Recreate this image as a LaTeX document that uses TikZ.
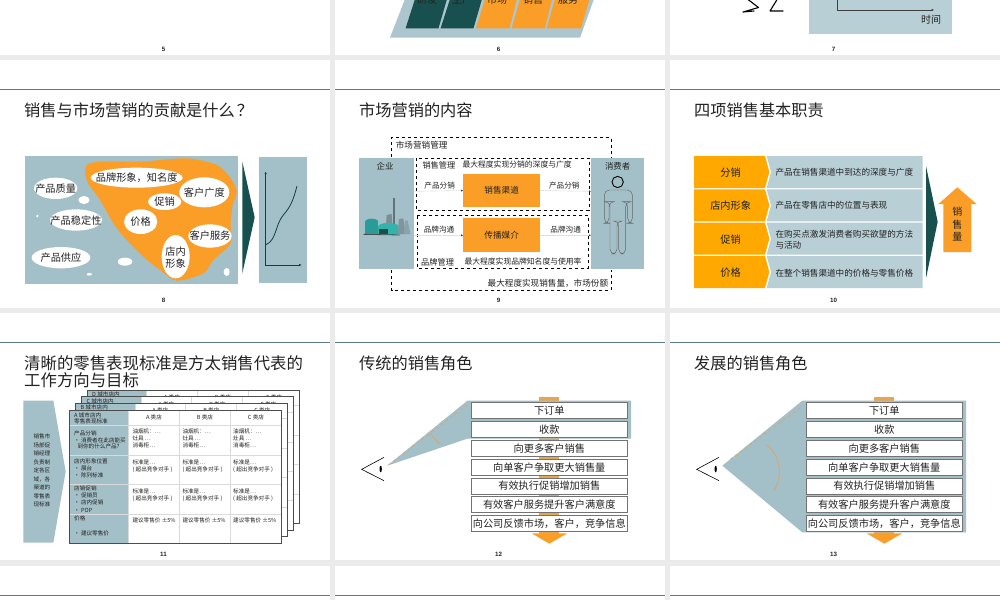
\documentclass[tikz,border=0pt]{standalone}
\usepackage{fontspec}
\setmainfont{Noto Sans CJK SC}
\newfontfamily\latinnum{Liberation Sans}
\usetikzlibrary{arrows.meta}
\definecolor{bandgray}{HTML}{EBEBEB}
\definecolor{rulec}{HTML}{5F7C80}
\definecolor{steel}{HTML}{A3BFC8}
\definecolor{pale}{HTML}{B8CFD6}
\definecolor{deep}{HTML}{17504F}
\definecolor{amber}{HTML}{FB9E28}
\definecolor{barc}{HTML}{E9A54E}
\definecolor{gold}{HTML}{FFA800}
\definecolor{ink}{HTML}{222222}
\definecolor{gridc}{HTML}{DADADA}
\definecolor{tan}{HTML}{D9A566}
\definecolor{teala}{HTML}{2A9C98}
\definecolor{tealb}{HTML}{33B3AC}
\tikzset{
  fs/.style={font=\fontsize{#1pt}{#1pt}\selectfont},
  every node/.style={inner sep=0pt,text=ink},
  titletext/.style={anchor=west,fs=16.2},
  pagenum/.style={font=\latinnum\bfseries\fontsize{6.2pt}{6.2pt}\selectfont},
  zoomed/.style={x=0.33333pt,y=-0.33333pt},
  rolebox/.style={draw=black!55,line width=.7pt,fill=white,minimum width=156pt,minimum height=16pt,fs=10.2},
  cell/.style={anchor=west,fs=5.6,align=left},
  thin conn/.style={draw=black!12,line width=.6pt,-{Latex[length=2pt,width=2pt,black!80]}},
}
\newcommand{\zell}[4]{\fill[white] (#1,#2) ellipse [x radius=#3,y radius=#4];}
% name, dx, dy, letter
\newcommand{\sheet}[4]{%
\begin{scope}[shift={(#2,#3)}]
  \fill[white] (0,0) rectangle (635,400);
  \fill[steel] (0,0) rectangle (178,400);
  \draw[gridc,line width=.4pt] (0,46)--(635,46) (0,136)--(635,136) (0,223)--(635,223) (0,312)--(635,312)
     (178,0)--(178,400) (330,0)--(330,400) (483,0)--(483,400);
  \draw[black!70,line width=.8pt] (0,0) rectangle (635,400);
  \node[cell] (#1h) at (14,13) {#4 城市店内};
  \node[fs=5.6] (#1a) at (254,22) {A 类店};
  \node[fs=5.6] (#1b) at (407,22) {B 类店};
  \node[fs=5.6] (#1c) at (560,22) {C 类店};
\end{scope}}
\begin{document}
\begin{tikzpicture}[x=1pt,y=-1pt]
\path[use as bounding box,clip] (0,0) rectangle (1000,600);
\fill[bandgray] (0,0) rectangle (1000,600);
% panels
\foreach \px in {0,335,670}{
  \fill[white] (\px,0) rectangle +(330,55);
  \fill[white] (\px,59.5) rectangle +(330,248);
  \fill[white] (\px,313) rectangle +(330,247);
  \fill[white] (\px,566) rectangle +(330,34);
  \draw[rulec,line width=.8pt] (\px,89.5) -- +(330,0);
  \draw[rulec,line width=.8pt] (\px,342.5) -- +(330,0);
  \draw[rulec,line width=.8pt] (\px,595.5) -- +(330,0);
}
% page numbers
\node[pagenum] (p5) at (163.5,49) {5};
\node[pagenum] (p6) at (498.5,49) {6};
\node[pagenum] (p7) at (833.5,49) {7};
\node[pagenum] (p8) at (163.5,300.8) {8};
\node[pagenum] (p9) at (498.5,300.8) {9};
\node[pagenum] (p10) at (833.5,300.8) {10};
\node[pagenum] (p11) at (163.5,554) {11};
\node[pagenum] (p12) at (498.5,554) {12};
\node[pagenum] (p13) at (833.5,554) {13};
% slide 6 remainder
\fill[steel!90!white] (405,-1) -- (594,-1) -- (580,37.7) -- (390,37.7) -- cycle;
\fill[deep] (415,-1)--(447,-1)--(438.5,28.3)--(405.6,28.3)--cycle;
\fill[deep] (450,-1)--(482,-1)--(473.5,28.3)--(440.6,28.3)--cycle;
\fill[amber] (485,-1)--(517,-1)--(509.5,28.3)--(476,28.3)--cycle;
\fill[amber] (520,-1)--(552,-1)--(545,28.3)--(511.7,28.3)--cycle;
\fill[amber] (555,-1)--(589.5,-1)--(581,28.3)--(546.7,28.3)--cycle;
\node[fs=10] (r1) at (427,0) {研发};
\node[fs=10] (r2) at (462,0) {生产};
\node[fs=10] (r3) at (497,0) {市场};
\node[fs=10] (r4) at (533,0) {销售};
\node[fs=10] (r5) at (568,0) {服务};
% slide 7 remainder
\draw[black,line width=1.1pt,line cap=round,line join=round] (746,-2)--(758.5,7.5)--(743,12)--(754,11);
\draw[black,line width=1.1pt,line cap=round,line join=round] (778,-2)--(770,11)--(783,11);
\fill[pale] (809,-1) rectangle (952,33.7);
\draw[black!75,line width=.8pt,-{Latex[length=2.5pt,width=2.5pt]}] (837,-1)--(837,10)--(934,10);
\node[fs=10] (s7t) at (931,20) {时间};

% ---------- slide 8
\node[titletext] (t8) at (24,110.7) {销售与市场营销的贡献是什么\hspace{2pt}？};
\begin{scope}[shift={(0,90)},zoomed]
\fill[steel] (75,198) rectangle (713,581);
\fill[amber] plot[smooth cycle,tension=.5] coordinates {(258,228) (300,215) (420,215) (560,205) (650,225) (690,262) (710,305) (698,345) (692,400) (692,460) (640,510) (610,550) (530,572) (480,540) (430,500) (380,450) (340,400) (300,330) (262,275)};
\zell{410}{263}{138}{30}\zell{167}{295}{65}{32}\zell{252}{330}{17}{12}\zell{112}{378}{4}{4}
\zell{228}{390}{78}{32}\zell{183}{503}{88}{32}\zell{375}{515}{22}{12}\zell{268}{553}{8}{4}
\zell{613}{307}{75}{45}\zell{494}{335}{50}{25}\zell{422}{395}{50}{37}\zell{630}{438}{65}{35}
\zell{527}{500}{42}{65}\zell{680}{546}{9}{12}
\node[fs=10.2] (a1) at (410,263) {品牌形象，知名度};
\node[fs=10.2] (a2) at (167,295) {产品质量};
\node[fs=10.2] (a3) at (228,391) {产品稳定性};
\node[fs=10.2] (a4) at (183,503) {产品供应};
\node[fs=10.2] (a5) at (613,307) {客户广度};
\node[fs=10.2] (a6) at (494,335) {促销};
\node[fs=10.2] (a7) at (422,395) {价格};
\node[fs=10.2] (a8) at (630,438) {客户服务};
\node[fs=10.2,align=center] (a9) at (527,503) {店内\\[1pt]形象};
\fill[deep] (727,215)--(764,382)--(727,550)--cycle;
\fill[steel] (778,202) rectangle (921,578);
\draw[black!80,line width=.6pt,{Latex[length=2.5pt,width=2.5pt]}-{Latex[length=2.5pt,width=2.5pt]}] (797,245)--(797,525)--(905,525);
\draw[deep!80!black,line width=.8pt] (798,464) .. controls (830,450) and (825,405) .. (850,375) .. controls (872,350) and (880,330) .. (891,288);
\end{scope}

% ---------- slide 9
\node[titletext] (t9) at (359,110.7) {市场营销的内容};
\begin{scope}[shift={(335,90)},zoomed]
\draw[black,dashed,line width=.7pt] (170,202)--(170,143)--(828,143)--(828,202);
\draw[black,dashed,line width=.7pt] (170,540)--(170,601)--(828,601)--(828,540);
\fill[steel] (72,203) rectangle (236,538);
\fill[steel] (768,203) rectangle (927,538);
\coordinate (entE) at (236,304);
\coordinate (conE) at (768,304);
\draw[black,dashed,line width=.5pt] (245,204) rectangle (762,361);
\draw[black,dashed,line width=.5pt] (247,377) rectangle (760,534);
\node[fill=amber,minimum width=76.7pt,minimum height=33.7pt,fs=8.6] (chan) at (500,301.5) {销售渠道};
\node[fill=amber,minimum width=76.7pt,minimum height=34pt,fs=8.6] (media) at (500,436) {传播媒介};
\draw[thin conn] (entE) -- (chan.west);
\draw[thin conn] (chan.east) -- (conE);
\draw[thin conn] (entE |- media.west) -- (media.west);
\draw[thin conn] (media.east) -- (conE |- media.east);
\node[anchor=west,fs=8.6] (m0) at (182,165) {市场营销管理};
\node[fs=8.4] (m1) at (150,228) {企业};
\node[fs=8.4] (m2) at (848,228) {消费者};
\node[anchor=west,fs=8.2] (m3) at (262,225) {销售管理};
\node[anchor=west,fs=7.8] (m4) at (382,224) {最大程度实现分销的深度与广度};
\node[fs=7.6] (m5) at (314,287) {产品分销};
\node[fs=7.6] (m6) at (688,287) {产品分销};
\node[fs=7.6] (m7) at (312,420) {品牌沟通};
\node[fs=7.6] (m8) at (692,420) {品牌沟通};
\node[anchor=west,fs=8.2] (m9) at (258,517) {品牌管理};
\node[anchor=west,fs=7.8] (m10) at (388,516) {最大程度实现品牌知名度与使用率};
\node[anchor=east,fs=8.6] (m11) at (820,580) {最大程度实现销售量，市场份额};
% person
\draw[black,line width=.9pt] (848,276) circle [radius=17];
\draw[black!60,line width=.45pt,rounded corners=5pt] (822,400)--(808,400)--(808,300)--(892,300)--(892,400)--(878,400)--(878,335)--(872,335)--(872,492)--(851,492)--(851,393)--(846,393)--(846,492)--(825,492)--(825,335)--(822,335)--cycle;
% factory
\fill[black!40!steel] (174,325) rectangle (181,405);
\fill[black!25!steel] (155,375)--(170,372)--(172,405)--(153,405)--cycle;
\fill[black!22!steel] (192,387)--(205,385)--(211,432)--(188,432)--cycle;
\fill[black!15!steel] (210,392)--(218,392)--(226,432)--(206,432)--cycle;
\fill[teala] (90,396) rectangle (130,432);
\fill[teala] (90,396) arc[start angle=180,end angle=360,x radius=20,y radius=10];
\fill[tealb] (130,408) rectangle (190,434);
\fill[tealb] (130,408) arc[start angle=180,end angle=360,x radius=30,y radius=9];
\fill[deep] (133,416) rectangle (160,433);
\draw[black!70,line width=.8pt] (85,433)--(195,435);
\end{scope}

% ---------- slide 10
\node[titletext] (t10) at (694,110.7) {四项销售基本职责};
\begin{scope}[shift={(670,90)},zoomed]
\foreach \yy/\lab/\nm in {198/分销/u1,298/店内形象/u2,398/促销/u3,498/价格/u4}{
  \fill[gold] (72,\yy)--(285,\yy)--(298,\yy+48)--(285,\yy+96)--(72,\yy+96)--cycle;
  \fill[pale] (290,\yy)--(758,\yy)--(758,\yy+96)--(290,\yy+96)--(303,\yy+48)--cycle;
  \node[fs=10.2] (\nm) at (182,\yy+50) {\lab};
}
\node[anchor=west,fs=8.6] (d1) at (316,247) {产品在销售渠道中到达的深度与广度};
\node[anchor=west,fs=8.6] (d2) at (316,347) {产品在零售店中的位置与表现};
\node[anchor=west,fs=8.6,align=left] (d3) at (316,449) {在购买点激发消费者购买欲望的方法\\[1.5pt]与活动};
\node[anchor=west,fs=8.6] (d4) at (316,550) {在整个销售渠道中的价格与零售价格};
\fill[deep] (768,228)--(803,395)--(768,565)--cycle;
\fill[amber] (862,292)--(920,342)--(904,342)--(904,486)--(820,486)--(820,342)--(805,342)--cycle;
\node[fs=10] (v1) at (862,366) {销};
\node[fs=10] (v2) at (862,405) {售};
\node[fs=10] (v3) at (862,441) {量};
\end{scope}

% ---------- slide 11
\node[anchor=west,align=left,font=\fontsize{16.4pt}{17.2pt}\selectfont] (t11) at (24,372) {清晰的零售表现标准是方太销售代表的\\工作方向与目标};
\begin{scope}[shift={(0,340)},zoomed]
\fill[steel] (70,182)--(160,182)--(197,395)--(160,608)--(70,608)--cycle;
\node[anchor=west,align=left,font=\fontsize{5.6pt}{8.5pt}\selectfont] (ch) at (100,392) {销售市\\场部促\\销经理\\负责制\\定各区\\域，各\\渠道的\\零售表\\现标准};
\sheet{sd}{262}{150}{D}
\sheet{sc}{245}{170}{C}
\sheet{sb}{227}{190}{B}
\begin{scope}[shift={(208,210)}]
  \fill[white] (0,0) rectangle (635,400);
  \fill[steel] (0,0) rectangle (178,400);
  \draw[gridc,line width=.4pt] (0,46)--(635,46) (0,136)--(635,136) (0,223)--(635,223) (0,312)--(635,312)
     (178,0)--(178,400) (330,0)--(330,400) (483,0)--(483,400);
  \draw[black!70,line width=.8pt] (0,0) rectangle (635,400);
\end{scope}
\node[cell] (h1) at (222,225) {A 城市店内};
\node[cell] (h2) at (222,245) {零售表现标准};
\node[cell] (h3) at (222,280) {产品分销};
\node[cell] (h4) at (222,300) {• 消费者在此店能买};
\node[cell] (h5) at (232,320) {到你的什么产品？};
\node[cell] (h6) at (222,365) {店内形象位置};
\node[cell] (h7) at (222,385) {• 展台};
\node[cell] (h8) at (222,407) {• 陈列标准};
\node[cell] (h9) at (222,446) {店销促销};
\node[cell] (h10) at (222,466) {• 促销员};
\node[cell] (h11) at (222,488) {• 店内促销};
\node[cell] (h12) at (222,510) {• POP};
\node[cell] (h13) at (222,536) {价格};
\node[cell] (h14) at (222,580) {• 建议零售价};
\node[fs=5.6] (c1) at (462,232) {A 类店};
\node[fs=5.6] (c2) at (615,232) {B 类店};
\node[fs=5.6] (c3) at (768,232) {C 类店};
\foreach \cx/\nm in {397/ca,547/cb,699/cc}{
  \node[cell] (\nm1) at (\cx,275) {油烟机：…};
  \node[cell] (\nm2) at (\cx,296) {灶具 …};
  \node[cell] (\nm3) at (\cx,316) {消毒柜…};
  \node[cell] (\nm4) at (\cx,367) {标准是…};
  \node[cell] (\nm5) at (\cx,388) {( 超出竞争对手 )};
  \node[cell] (\nm6) at (\cx,454) {标准是…};
  \node[cell] (\nm7) at (\cx,476) {( 超出竞争对手 )};
  \node[cell] (\nm8) at (\cx,541) {建议零售价 ±5\%};
}
\end{scope}

% ---------- slides 12, 13
\node[titletext] (t12) at (359,363.5) {传统的销售角色};
\node[titletext] (t13) at (694,363.5) {发展的销售角色};
\foreach \ox/\va/\vb in {335/182/296,670/182/577}{
\begin{scope}[shift={(\ox,340)},zoomed]
  \fill[barc] (613,170) rectangle (673,582);
  \fill[amber] (590,580)--(697,580)--(643,611)--cycle;
  \fill[steel] (157,377)--(397,\va)--(888,\va)--(888,\vb)--(397,\vb)--cycle;
\end{scope}
}
\foreach \ox/\pp in {335/l,670/r}{
\begin{scope}[shift={(\ox,340)},zoomed]
  \draw[black,line width=.6pt] (147,352)--(80,388)--(147,422);
  \fill[black] (137,387) ellipse [x radius=3.5,y radius=10];
  \node[rolebox] (\pp1) at (643,212) {下订单};
  \node[rolebox] (\pp2) at (643,269) {收款};
  \node[rolebox] (\pp3) at (643,326) {向更多客户销售};
  \node[rolebox] (\pp4) at (643,382) {向单客户争取更大销售量};
  \node[rolebox] (\pp5) at (643,438) {有效执行促销增加销售};
  \node[rolebox] (\pp6) at (643,494) {有效客户服务提升客户满意度};
  \node[rolebox] (\pp7) at (643,551) {向公司反馈市场，客户，竞争信息};
\end{scope}
}
\begin{scope}[shift={(335,340)},zoomed]
  \draw[tan,dashed,line width=.6pt] (160,375)--(395,195);
  \draw[tan,line width=.6pt,-{Latex[length=2.5pt,width=2pt]}] (285,280)--(315,313);
\end{scope}
\begin{scope}[shift={(670,340)},zoomed]
  \draw[tan,dashed,line width=.6pt] (180,358)--(395,200);
  \draw[tan,line width=.7pt,-{Latex[length=2.5pt,width=2pt]}] (290,315) .. controls (335,350) and (335,410) .. (312,452);
\end{scope}
\end{tikzpicture}
\end{document}
